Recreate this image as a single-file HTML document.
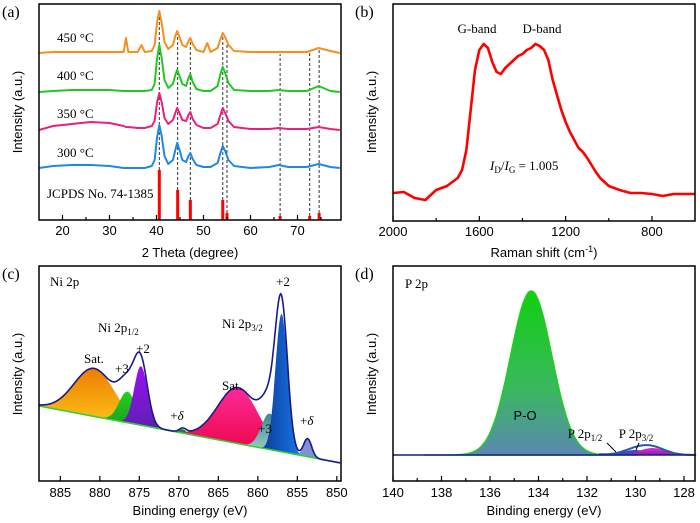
<!DOCTYPE html>
<html><head><meta charset="utf-8">
<style>
html,body{margin:0;padding:0;background:#fff;}
svg{display:block;}
.ser{font-family:"Liberation Serif",serif;}
.san{font-family:"Liberation Sans",sans-serif;}
</style></head>
<body>
<svg id="fig" width="700" height="523" viewBox="0 0 700 523" xmlns="http://www.w3.org/2000/svg">
<defs>
<linearGradient id="gSat1" x1="0" y1="0" x2="0" y2="1"><stop offset="0" stop-color="#ee7d00"/><stop offset="1" stop-color="#ffd21e"/></linearGradient>
<linearGradient id="gGreen" x1="0" y1="0" x2="0" y2="1"><stop offset="0" stop-color="#22d022"/><stop offset="1" stop-color="#1a9a1a"/></linearGradient>
<linearGradient id="gPurp" x1="0" y1="0" x2="0" y2="1"><stop offset="0" stop-color="#9a10f0"/><stop offset="1" stop-color="#5a20b0"/></linearGradient>
<linearGradient id="gSat2" x1="0" y1="0" x2="0" y2="1"><stop offset="0" stop-color="#ff2a9a"/><stop offset="1" stop-color="#e8003a"/></linearGradient>
<linearGradient id="gTeal" x1="0" y1="0" x2="0" y2="1"><stop offset="0" stop-color="#3a8a8a"/><stop offset="1" stop-color="#b0d8d8"/></linearGradient>
<linearGradient id="gBlue" x1="0" y1="0" x2="1" y2="0"><stop offset="0" stop-color="#0a2a80"/><stop offset="1" stop-color="#1a8aff"/></linearGradient>
<linearGradient id="gPO" x1="0" y1="0" x2="0" y2="1"><stop offset="0" stop-color="#10d010"/><stop offset="0.6" stop-color="#3ab860"/><stop offset="1" stop-color="#5a88b0"/></linearGradient>
<linearGradient id="gMag" x1="0" y1="0" x2="0" y2="1"><stop offset="0" stop-color="#e030e0"/><stop offset="1" stop-color="#8020a0"/></linearGradient>
</defs>

<g>
<text x="2" y="17" class="ser" font-size="16">(a)</text>
<g id="aMarks"></g>
<rect x="39" y="4" width="302" height="216" fill="none" stroke="#000" stroke-width="1.5"/>
<g id="aTicks"></g>
<text x="57" y="42" class="ser" font-size="13">450 °C</text>
<text x="57" y="80" class="ser" font-size="13">400 °C</text>
<text x="57" y="118" class="ser" font-size="13">350 °C</text>
<text x="57" y="157" class="ser" font-size="13">300 °C</text>
<text x="47" y="198" class="ser" font-size="13">JCPDS No. 74-1385</text>
<text x="190" y="257" text-anchor="middle" class="san" font-size="13">2 Theta (degree)</text>
<text transform="translate(22,112) rotate(-90)" text-anchor="middle" class="san" font-size="13">Intensity (a.u.)</text>
</g>

<g>
<text x="355" y="17" class="ser" font-size="16">(b)</text>
<g id="bMarks"></g>
<rect x="393" y="4" width="302" height="217" fill="none" stroke="#000" stroke-width="1.5"/>
<g id="bTicks"></g>
<text x="477" y="33" text-anchor="middle" class="ser" font-size="13">G-band</text>
<text x="542" y="33" text-anchor="middle" class="ser" font-size="13">D-band</text>
<text x="490" y="170" class="ser" font-size="13"><tspan font-style="italic">I</tspan><tspan font-size="9" dy="3">D</tspan><tspan dy="-3">/</tspan><tspan font-style="italic">I</tspan><tspan font-size="9" dy="3">G</tspan><tspan dy="-3"> = 1.005</tspan></text>
<text x="544" y="257" text-anchor="middle" class="san" font-size="13">Raman shift (cm<tspan font-size="9" dy="-5">-1</tspan><tspan dy="5">)</tspan></text>
<text transform="translate(376,112) rotate(-90)" text-anchor="middle" class="san" font-size="13">Intensity (a.u.)</text>
</g>

<g>
<text x="2" y="279" class="ser" font-size="16">(c)</text>
<g id="cMarks"></g>
<rect x="39" y="266" width="302" height="215" fill="none" stroke="#000" stroke-width="1.5"/>
<g id="cTicks"></g>
<text x="50" y="286" class="ser" font-size="13">Ni 2p</text>
<text x="98" y="332" class="ser" font-size="13">Ni 2p<tspan font-size="9" dy="3">1/2</tspan></text>
<text x="143" y="353" text-anchor="middle" class="ser" font-size="13">+2</text>
<text x="115" y="373" class="ser" font-size="13">+3</text>
<text x="84" y="363" class="ser" font-size="13">Sat.</text>
<text x="177" y="420" text-anchor="middle" class="ser" font-size="13">+<tspan font-style="italic">δ</tspan></text>
<text x="222" y="390" class="ser" font-size="13">Sat.</text>
<text x="222" y="328" class="ser" font-size="13">Ni 2p<tspan font-size="9" dy="3">3/2</tspan></text>
<text x="283" y="286" text-anchor="middle" class="ser" font-size="13">+2</text>
<text x="258" y="433" class="ser" font-size="13">+3</text>
<text x="300" y="425" class="ser" font-size="13">+<tspan font-style="italic">δ</tspan></text>
<text x="190" y="515" text-anchor="middle" class="san" font-size="13">Binding energy (eV)</text>
<text transform="translate(22,374) rotate(-90)" text-anchor="middle" class="san" font-size="13">Intensity (a.u.)</text>
</g>

<g>
<text x="355" y="279" class="ser" font-size="16">(d)</text>
<g id="dMarks"></g>
<rect x="393" y="266" width="302" height="215" fill="none" stroke="#000" stroke-width="1.5"/>
<g id="dTicks"></g>
<text x="405" y="288" class="ser" font-size="13">P 2p</text>
<text x="525" y="420" text-anchor="middle" class="san" font-size="13">P-O</text>
<text x="585" y="438" text-anchor="middle" class="ser" font-size="13">P 2p<tspan font-size="9" dy="3">1/2</tspan></text>
<text x="636" y="438" text-anchor="middle" class="ser" font-size="13">P 2p<tspan font-size="9" dy="3">3/2</tspan></text>
<line x1="607" y1="443" x2="616" y2="452" stroke="#000" stroke-width="1"/>
<line x1="639" y1="443" x2="636" y2="450" stroke="#000" stroke-width="1"/>
<text x="544" y="515" text-anchor="middle" class="san" font-size="13">Binding energy (eV)</text>
<text transform="translate(376,374) rotate(-90)" text-anchor="middle" class="san" font-size="13">Intensity (a.u.)</text>
</g>
</svg>

<script>
const xrdX = [15,18,22,26,30,33,33.5,34,36,36.8,37.5,39,39.6,40.1,40.6,41.1,41.7,42.5,43.5,44,44.4,44.9,45.5,46.3,46.8,47.2,47.7,48.5,50,50.8,51.5,53,53.6,54.1,54.7,55.3,56.5,60,64,66,68,72,74.5,77,79];
const xrd300 = [0,2,3,3,2,0,0,0,0,0,0,2,8,30,43,32,12,4,8,18,25,18,8,6,12,15,9,3,1,1,1,5,15,22,16,8,2,0,1,3,1,1,4,1,0];
const xrd350 = [0,4,6,8,7,4,3,3,2,2,2,4,9,27,37,28,12,6,10,17,22,17,10,9,15,18,11,5,2,2,2,6,15,22,16,9,3,1,1,2,1,1,3,1,0];
const xrd400 = [0,1,2,2,2,1,1,1,1,1,1,2,8,33,47,34,12,4,8,17,22,16,8,6,14,18,10,3,1,1,1,6,18,25,18,9,2,1,1,2,1,1,6,1,0];
const xrd450 = [0,1,1,1,1,1,15,1,1,8,1,2,8,30,42,30,11,4,8,17,22,16,8,6,12,15,9,3,1,10,1,5,14,20,15,8,2,1,1,1,1,1,5,2,0];
const xrdOffsets = [52,90,128,167];
const stickPos = [40.6,44.5,47.2,54.1,55.0,66.3,72.6,74.6];
const stickH = [50,30,20,20,7,4,4,7];
const xrdTicks = [20,30,40,50,60,70];
const xrdMinor = [25,35,45,55,65,75];

const ramanX = [2000,1950,1900,1850,1800,1750,1700,1680,1660,1640,1620,1600,1580,1560,1540,1520,1500,1480,1460,1440,1420,1400,1380,1360,1340,1320,1300,1280,1260,1240,1220,1200,1180,1160,1140,1120,1100,1080,1060,1040,1020,1000,950,900,850,800,750,700,650,600];
const ramanY = [28,29,23,21,31,35,43,51,71,111,151,171,177,173,159,149,147,153,157,161,165,167,171,173,177,175,171,161,141,126,111,99,89,81,73,69,63,56,49,43,39,35,31,28,28,27,25,27,27,27];
const ramanTicks = [2000,1600,1200,800];
const ramanMinor = [1800,1400,1000];

const niCenters = [880.7,876.5,874.8,869.5,862.5,858.5,857.0,853.7];
const niHeights = [48,31,59,4,56,36,138,18];
const niFwhm = [6,2.5,2,1,6,2.5,1.8,1.2];
const niFills = ['url(#gSat1)','url(#gGreen)','url(#gPurp)','#2a7a3a','url(#gSat2)','url(#gTeal)','url(#gBlue)','#8090d0'];
const niBgEnds = [75,18];
const niTicks = [885,880,875,870,865,860,855,850];

const pCenters = [134.3,130.0,129.3];
const pHeights = [164,5,7];
const pFwhm = [2.0,1.3,1.3];
const pFills = ['url(#gPO)','#3050c0','url(#gMag)'];
const pTicks = [140,138,136,134,132,130,128];
const pMinor = [139,137,135,133,131,129];

const NS = 'http://www.w3.org/2000/svg';
function mk(parent, tag, name) {
  const el = document.createElementNS(NS, tag);
  
  
  parent.appendChild(el);
  return el;
}
function gauss(x, c, h, f) { return h * Math.exp(-4 * Math.LN2 * (x - c) * (x - c) / (f * f)); }
function interp(xs, ys, x) {
  for (let i = 0; i < xs.length - 1; i++) {
    const a = xs[i], b = xs[i+1];
    if ((x - a) * (x - b) <= 0) { const t = (x - a) / (b - a); return ys[i] + t * (ys[i+1] - ys[i]); }
  }
  return ys[ys.length - 1];
}
function ticks(g, vals, xf, yb, len, labels, labelY, name) {
  vals.forEach(v => {
    const t = mk(g, 'line', name + '-tick');
    t.setAttribute('x1', xf(v)); t.setAttribute('x2', xf(v));
    t.setAttribute('y1', yb); t.setAttribute('y2', yb - len);
    t.setAttribute('stroke', '#000'); t.setAttribute('stroke-width', '1.2');
    if (labels) {
      const tx = mk(g, 'text', name + '-tick-label');
      tx.setAttribute('x', xf(v)); tx.setAttribute('y', labelY);
      tx.setAttribute('text-anchor', 'middle'); tx.setAttribute('class', 'san'); tx.setAttribute('font-size', '13');
      tx.textContent = v;
    }
  });
}

const xa = v => 39 + (v - 15) * 4.7;
const ya = v => 220 - v;
const aG = document.getElementById('aMarks');
const series = [xrd300, xrd350, xrd400, xrd450];
const colors = ['#1e88e5', '#e8207e', '#22c822', '#f5901e'];
const snames = ['xrd-300c-line','xrd-350c-line','xrd-400c-line','xrd-450c-line'];
stickPos.forEach((p, i) => {
  const top = interp(xrdX, xrd450, p) + xrdOffsets[3];
  const l = mk(aG, 'line', 'reference-guide-dashed');
  l.setAttribute('x1', xa(p)); l.setAttribute('x2', xa(p));
  l.setAttribute('y1', ya(stickH[i])); l.setAttribute('y2', ya(top) + 2);
  l.setAttribute('stroke', '#333'); l.setAttribute('stroke-width', '1'); l.setAttribute('stroke-dasharray', '3,2');
});
series.forEach((s, k) => {
  const p = mk(aG, 'polyline', snames[k]);
  p.setAttribute('points', xrdX.map((x, i) => xa(x) + ',' + ya(s[i] + xrdOffsets[k])).join(' '));
  p.setAttribute('fill', 'none'); p.setAttribute('stroke', colors[k]); p.setAttribute('stroke-width', '2');
  p.setAttribute('stroke-linejoin', 'round');
});
stickPos.forEach((p, i) => {
  const r = mk(aG, 'rect', 'jcpds-stick');
  r.setAttribute('x', xa(p) - 1.5); r.setAttribute('y', ya(stickH[i]));
  r.setAttribute('width', 3); r.setAttribute('height', stickH[i]); r.setAttribute('fill', '#f00');
});
const aT = document.getElementById('aTicks');
ticks(aT, xrdTicks, xa, 220, 5, true, 235, 'xrd-x');
ticks(aT, xrdMinor, xa, 220, 3, false, 0, 'xrd-x-minor');

const xb = v => 393 + (2000 - v) * 0.2158;
const yb = v => 221 - v;
const bG = document.getElementById('bMarks');
const rl = mk(bG, 'polyline', 'raman-spectrum-line');
rl.setAttribute('points', ramanX.map((x, i) => xb(x) + ',' + yb(ramanY[i])).join(' '));
rl.setAttribute('fill', 'none'); rl.setAttribute('stroke', '#f00'); rl.setAttribute('stroke-width', '2.6');
rl.setAttribute('stroke-linejoin', 'round');
const bT = document.getElementById('bTicks');
ticks(bT, ramanTicks, xb, 221, 5, true, 236, 'raman-x');
ticks(bT, ramanMinor, xb, 221, 3, false, 0, 'raman-x-minor');

const xc = v => 39 + (887.7 - v) * 7.9;
const yc = v => 481 - v;
const niBg = v => niBgEnds[0] + (887.7 - v) / (887.7 - 849.5) * (niBgEnds[1] - niBgEnds[0]);
const cG = document.getElementById('cMarks');
niCenters.forEach((c, k) => {
  const lo = Math.min(887.7, c + 2.2 * niFwhm[k]), hi = Math.max(849.5, c - 2.2 * niFwhm[k]);
  let d = '';
  for (let x = lo; x >= hi - 1e-9; x -= 0.1) d += (d ? 'L' : 'M') + xc(x).toFixed(1) + ',' + yc(niBg(x) + gauss(x, c, niHeights[k], niFwhm[k])).toFixed(1);
  for (let x = hi; x <= lo + 1e-9; x += 0.5) d += 'L' + xc(x).toFixed(1) + ',' + yc(niBg(x)).toFixed(1);
  const p = mk(cG, 'path', 'ni-fit-component');
  p.setAttribute('d', d + 'Z'); p.setAttribute('fill', niFills[k]);
});
const bl = mk(cG, 'line', 'ni-background-line');
bl.setAttribute('x1', xc(887.7)); bl.setAttribute('y1', yc(niBg(887.7)));
bl.setAttribute('x2', xc(849.5)); bl.setAttribute('y2', yc(niBg(849.5)));
bl.setAttribute('stroke', '#33d033'); bl.setAttribute('stroke-width', '1.6');
let env = '';
for (let x = 887.7; x >= 849.5; x -= 0.1) {
  let s = niBg(x);
  niCenters.forEach((c, k) => { s += gauss(x, c, niHeights[k], niFwhm[k]); });
  env += (env ? ' ' : '') + xc(x).toFixed(1) + ',' + yc(s).toFixed(1);
}
const ce = mk(cG, 'polyline', 'ni-envelope-line');
ce.setAttribute('points', env); ce.setAttribute('fill', 'none'); ce.setAttribute('stroke', '#1a1a88'); ce.setAttribute('stroke-width', '1.6');
const cT = document.getElementById('cTicks');
ticks(cT, niTicks, xc, 481, 5, true, 497, 'ni2p-x');

const xd = v => 393 + (140 - v) * 24.25;
const yd = v => 455 - v;
const dG = document.getElementById('dMarks');
pCenters.forEach((c, k) => {
  const lo = Math.min(140, c + 2.2 * pFwhm[k]), hi = Math.max(127.5, c - 2.2 * pFwhm[k]);
  let d = '';
  for (let x = lo; x >= hi - 1e-9; x -= 0.05) d += (d ? 'L' : 'M') + xd(x).toFixed(1) + ',' + yd(gauss(x, c, pHeights[k], pFwhm[k])).toFixed(1);
  d += 'L' + xd(hi).toFixed(1) + ',' + yd(0) + 'L' + xd(lo).toFixed(1) + ',' + yd(0) + 'Z';
  const p = mk(dG, 'path', 'p-fit-component');
  p.setAttribute('d', d); p.setAttribute('fill', pFills[k]);
  p.setAttribute('stroke', k === 0 ? '#22cc22' : 'none'); p.setAttribute('stroke-width', '1.5');
});
let penv = '';
for (let x = 131.5; x >= 127.5; x -= 0.05) {
  let s = 0;
  pCenters.forEach((c, k) => { s += gauss(x, c, pHeights[k], pFwhm[k]); });
  penv += (penv ? ' ' : '') + xd(x).toFixed(1) + ',' + yd(s).toFixed(1);
}
const pe = mk(dG, 'polyline', 'p-envelope-line');
pe.setAttribute('points', penv); pe.setAttribute('fill', 'none'); pe.setAttribute('stroke', '#2a5aa0'); pe.setAttribute('stroke-width', '2');
const pb = mk(dG, 'line', 'p-background-line');
pb.setAttribute('x1', xd(140)); pb.setAttribute('x2', xd(127.5)); pb.setAttribute('y1', yd(0)); pb.setAttribute('y2', yd(0));
pb.setAttribute('stroke', '#1a1a88'); pb.setAttribute('stroke-width', '1.6');
const dT = document.getElementById('dTicks');
ticks(dT, pTicks, xd, 481, 5, true, 497, 'p2p-x');
ticks(dT, pMinor, xd, 481, 3, false, 0, 'p2p-x-minor');
</script>
</body></html>
